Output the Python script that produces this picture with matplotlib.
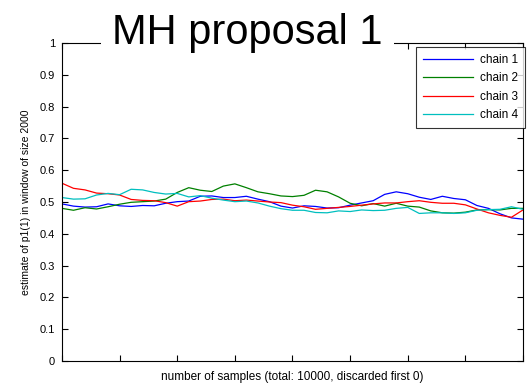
import numpy as np
import matplotlib
matplotlib.use("Agg")
import matplotlib.pyplot as plt

# estimate of p1(1), window of 2000 samples, read every 200 samples
samples = np.arange(0, 8001, 200)

chain1 = [0.494, 0.487, 0.484, 0.485, 0.494, 0.488, 0.486, 0.489, 0.488, 0.496,
          0.501, 0.503, 0.518, 0.519, 0.514, 0.514, 0.518, 0.509, 0.501, 0.487,
          0.481, 0.488, 0.486, 0.481, 0.482, 0.490, 0.497, 0.504, 0.524, 0.532,
          0.526, 0.515, 0.508, 0.518, 0.511, 0.507, 0.489, 0.480, 0.463, 0.450,
          0.446]
chain2 = [0.480, 0.474, 0.482, 0.478, 0.485, 0.493, 0.499, 0.501, 0.503, 0.509,
          0.530, 0.545, 0.537, 0.533, 0.550, 0.557, 0.545, 0.532, 0.526, 0.519,
          0.517, 0.521, 0.537, 0.532, 0.516, 0.496, 0.488, 0.495, 0.487, 0.496,
          0.487, 0.484, 0.472, 0.466, 0.465, 0.468, 0.475, 0.476, 0.475, 0.480,
          0.480]
chain3 = [0.559, 0.543, 0.538, 0.528, 0.526, 0.522, 0.508, 0.505, 0.504, 0.498,
          0.487, 0.501, 0.503, 0.508, 0.509, 0.504, 0.506, 0.503, 0.500, 0.498,
          0.490, 0.485, 0.477, 0.480, 0.483, 0.486, 0.490, 0.494, 0.497, 0.497,
          0.501, 0.504, 0.499, 0.496, 0.496, 0.491, 0.478, 0.466, 0.458, 0.452,
          0.475]
chain4 = [0.514, 0.509, 0.510, 0.522, 0.527, 0.523, 0.540, 0.538, 0.530, 0.525,
          0.527, 0.516, 0.520, 0.512, 0.506, 0.501, 0.503, 0.497, 0.487, 0.479,
          0.474, 0.474, 0.467, 0.466, 0.472, 0.470, 0.475, 0.473, 0.474, 0.480,
          0.483, 0.464, 0.466, 0.466, 0.464, 0.466, 0.474, 0.476, 0.477, 0.485,
          0.477]

labels = ["chain 1", "chain 2", "chain 3", "chain 4"]
colors = ["#0000ff", "#008000", "#ff0000", "#00bfbf"]

plt.rcParams['font.family'] = ['Liberation Sans', 'DejaVu Sans']

fig = plt.figure(figsize=(5.27, 3.86), dpi=100)
ax = fig.add_axes([0.1176, 0.0648, 0.8748, 0.8238])

for y, lab, c in zip([chain1, chain2, chain3, chain4], labels, colors):
    ax.plot(samples, y, color=c, lw=0.9, label=lab)

ax.set_xlim(0, 8000)
ax.set_ylim(0, 1)
ax.set_xticks(np.arange(0, 8001, 1000))
ax.set_xticklabels([])
ax.set_yticks(np.arange(0, 1.01, 0.1))
ax.set_yticklabels(["0", "0.1", "0.2", "0.3", "0.4", "0.5", "0.6", "0.7", "0.8", "0.9", "1"])
ax.tick_params(direction='in', length=4, width=0.8, top=True, right=True, labelsize=8, pad=5)
for s in ax.spines.values():
    s.set_linewidth(0.8)

ax.set_xlabel("number of samples (total: 10000, discarded first 0)", fontsize=8.5, labelpad=2)
ax.set_ylabel("estimate of p1(1) in window of size 2000", fontsize=7.5, labelpad=6)

fig.text(0.47, 0.885, "MH proposal 1", fontsize=30, ha='center', va='baseline',
         bbox=dict(facecolor='white', edgecolor='none', pad=8))

leg = ax.legend(loc='upper left', bbox_to_anchor=(0.768, 0.988), fontsize=8.5,
                frameon=True, fancybox=False, handlelength=4.2, borderaxespad=0,
                borderpad=0.6, labelspacing=0.55, handletextpad=0.6,
                edgecolor='black')
leg.get_frame().set_linewidth(0.8)

fig.savefig("out.png", dpi=100)
